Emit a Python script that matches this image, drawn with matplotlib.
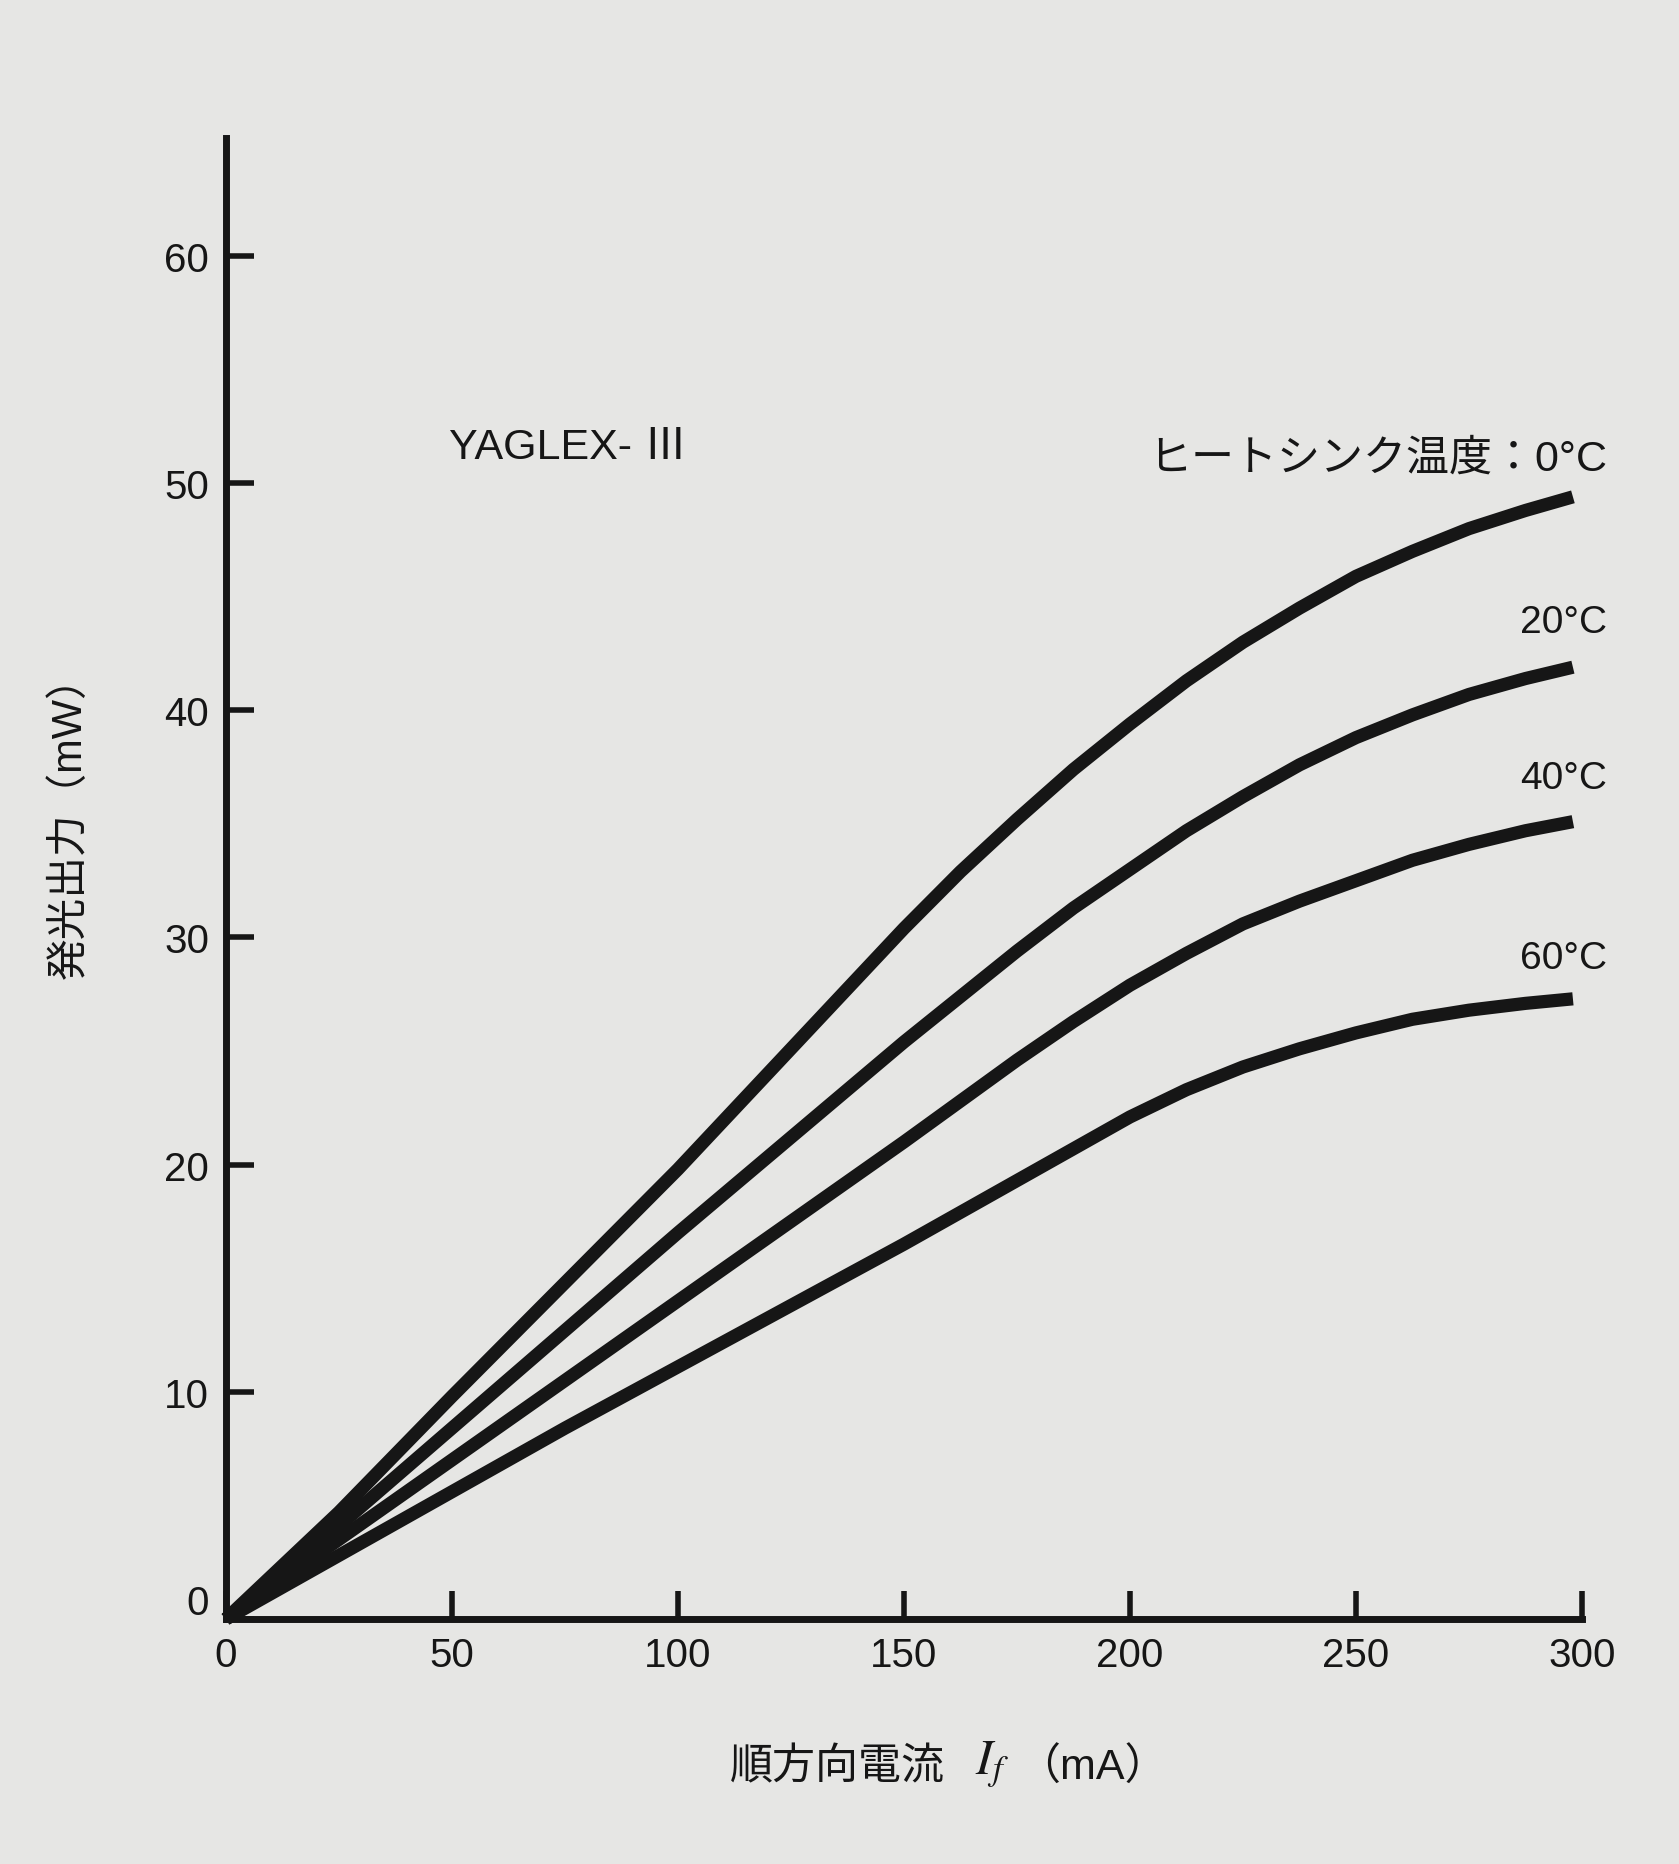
import matplotlib
matplotlib.use("Agg")
import matplotlib.pyplot as plt
import matplotlib.transforms as mtransforms

# -----------------------------
# DATA
# -----------------------------
current_ma = [0, 25, 50, 75, 100, 125, 150, 162.5, 175, 187.5, 200, 212.5,
              225, 237.5, 250, 262.5, 275, 287.5, 298]
power_0c = [0, 4.7, 9.8, 14.8, 19.8, 25.1, 30.4, 32.9, 35.2, 37.4, 39.4, 41.3,
            43.0, 44.5, 45.9, 47.0, 48.0, 48.8, 49.4]
power_20c = [0, 4.1, 8.4, 12.7, 17.0, 21.2, 25.4, 27.4, 29.4, 31.3, 33.0, 34.7,
             36.2, 37.6, 38.8, 39.8, 40.7, 41.4, 41.9]
power_40c = [0, 3.5, 7.0, 10.5, 14.0, 17.5, 21.0, 22.8, 24.6, 26.3, 27.9, 29.3,
             30.6, 31.6, 32.5, 33.4, 34.1, 34.7, 35.1]
power_60c = [0, 2.8, 5.6, 8.4, 11.1, 13.8, 16.5, 17.9, 19.3, 20.7, 22.1, 23.3,
             24.3, 25.1, 25.8, 26.4, 26.8, 27.1, 27.3]
series = [power_0c, power_20c, power_40c, power_60c]
temp_labels = ["ヒートシンク温度：0°C", "20°C", "40°C", "60°C"]
x_ticks = [0, 50, 100, 150, 200, 250, 300]
y_ticks = [0, 10, 20, 30, 40, 50, 60]

# -----------------------------
# STYLE
# -----------------------------
plt.rcParams["font.family"] = ["Liberation Sans", "Noto Sans CJK JP"]
plt.rcParams["mathtext.fontset"] = "stix"
bg = "#e6e6e4"
ink = "#161616"

fig = plt.figure(figsize=(16.79, 18.65), dpi=100, facecolor=bg)
ax = fig.add_axes([0.1346, 0.1314, 0.8076, 0.7941])
ax.set_facecolor(bg)

for ys in series:
    ax.plot(current_ma, ys, color=ink, lw=9.5, solid_capstyle="butt",
            solid_joinstyle="round", clip_on=False)

ax.set_xlim(0, 300)
ax.set_ylim(0, 65.2)
ax.set_xticks(x_ticks)
ax.set_yticks(y_ticks)

for side in ["top", "right"]:
    ax.spines[side].set_visible(False)
for side in ["left", "bottom"]:
    ax.spines[side].set_linewidth(5)
    ax.spines[side].set_color(ink)
    ax.spines[side].set_capstyle("projecting")

ax.tick_params(direction="in", length=20, width=4, color=ink,
               labelsize=29, labelcolor=ink, pad=12)

# y "0" label sits a bit above the x axis
fig.canvas.draw()
for lab in ax.get_yticklabels():
    if lab.get_text() == "0":
        lab.set_transform(lab.get_transform() +
                          mtransforms.ScaledTranslation(0, 14 / 72, fig.dpi_scale_trans))

# -----------------------------
# ANNOTATIONS
# -----------------------------
label_y = [51.1, 43.9, 37.0, 29.1]
for txt, yy in zip(temp_labels, label_y):
    ax.text(305.5, yy, txt, ha="right", va="center", fontsize=31 if "温度" in txt else 28,
            color=ink, clip_on=False)

ax.text(49.3, 51.6, "YAGLEX- Ⅲ", ha="left", va="center", fontsize=31, color=ink)

# axis labels
fig.text(0.0417, 0.5617, "発光出力（mW）", rotation=90, ha="center", va="center",
         fontsize=30, color=ink)
fig.text(0.4348, 0.052, "順方向電流", ha="left", va="center", fontsize=31, color=ink)
fig.text(0.5807, 0.054, "$I_f$", ha="left", va="center", fontsize=36, color=ink)
fig.text(0.6060, 0.052, "（mA）", ha="left", va="center", fontsize=31, color=ink)

fig.savefig("out.png", dpi=100, facecolor=bg)
